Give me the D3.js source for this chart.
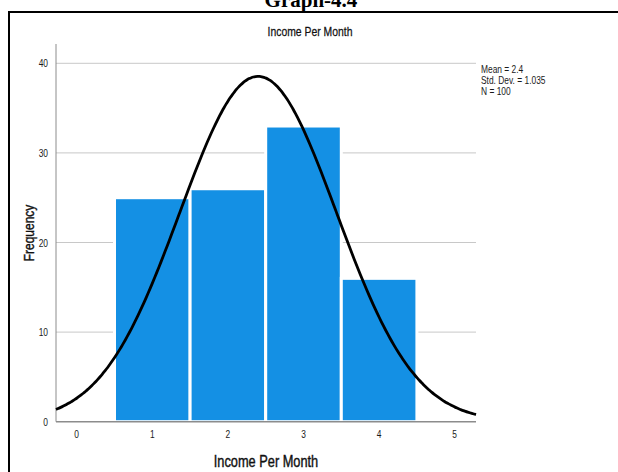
<!DOCTYPE html>
<html><head><meta charset="utf-8">
<script src="https://cdn.jsdelivr.net/npm/d3@7"></script>
<style>body{margin:0;background:#fff}svg{display:block}</style>
</head><body>
<script>
const categories = [1, 2, 3, 4];
const frequencies = [25, 26, 33, 16];
const yTicks = [0, 10, 20, 30, 40];
const xTicks = [0, 1, 2, 3, 4, 5];
const statsLines = ["Mean = 2.4", "Std. Dev. = 1.035", "N = 100"];
const mean = 2.4, sd = 1.035, n = 100, binWidth = 1;

const W = 618, H = 472;
const svg = d3.select("body").append("svg").attr("width", W).attr("height", H);

const x = d3.scaleLinear().domain([0, 5]).range([76.7, 454.7]);
const y = d3.scaleLinear().domain([0, 40]).range([421.7, 63.3]);
const xMin = x.invert(56), xMax = x.invert(476);

const font = "Liberation Sans, Arial, sans-serif";
const NARROW = 0.8;
function ntext(g, px, py, str, size, anchor, opts = {}) {
  const t = g.append("text")
    .attr("transform", `translate(${px},${py})${opts.rotate ? ` rotate(${opts.rotate})` : ""} scale(${NARROW},1)`)
    .attr("text-anchor", anchor).attr("font-family", font).attr("font-size", size)
    .attr("fill", opts.fill || "#1a1a1a").text(str);
  if (opts.heavy) t.attr("stroke", opts.fill || "#111").attr("stroke-width", opts.heavy);
  return t;
}

// page title (cut off at the top, as in the source)
svg.append("text").attr("x", 311).attr("y", 7).attr("text-anchor", "middle")
  .attr("font-family", "Liberation Serif, Times New Roman, serif").attr("font-weight", "bold")
  .attr("font-size", 21).text("Graph-4.4");

// border box
svg.append("path").attr("d", `M9,${H+5} V12 H${W+5}`).attr("fill", "none")
  .attr("stroke", "#000").attr("stroke-width", 2);

// grid lines
svg.append("g").selectAll("line").data(yTicks.filter(d => d > 0)).join("line")
  .attr("x1", 56).attr("x2", 476).attr("y1", d => y(d)).attr("y2", d => y(d))
  .attr("stroke", "#c8c8c8").attr("stroke-width", 1);

// bars
svg.append("g").selectAll("rect").data(categories).join("rect")
  .attr("x", (d) => x(d - binWidth / 2))
  .attr("width", x(binWidth) - x(0))
  .attr("y", (d, i) => y(frequencies[i]))
  .attr("height", (d, i) => y(0) - y(frequencies[i]))
  .attr("fill", "#1490e4").attr("stroke", "#fff").attr("stroke-width", 3);

// axes lines
svg.append("line").attr("x1", 56).attr("x2", 56).attr("y1", 44).attr("y2", y(0))
  .attr("stroke", "#8c8c8c").attr("stroke-width", 1);
svg.append("line").attr("x1", 56).attr("x2", 476).attr("y1", y(0)).attr("y2", y(0))
  .attr("stroke", "#8c8c8c").attr("stroke-width", 1.5);

// normal curve
const pts = d3.range(0, 201).map(i => {
  const xv = xMin + (xMax - xMin) * i / 200;
  const yv = n * binWidth / (sd * Math.sqrt(2 * Math.PI)) * Math.exp(-0.5 * ((xv - mean) / sd) ** 2);
  return [xv, yv];
});
svg.append("path").datum(pts)
  .attr("d", d3.line().x(d => x(d[0])).y(d => y(d[1])).curve(d3.curveBasis))
  .attr("fill", "none").attr("stroke", "#000").attr("stroke-width", 2.8);

// y tick labels
const gy = svg.append("g");
yTicks.forEach(d => ntext(gy, 48, y(d) + 4, d, 10.5, "end"));

// x tick labels
const gx = svg.append("g");
xTicks.forEach(d => ntext(gx, x(d), 438, d, 10.5, "middle"));

// chart title
ntext(svg, 310, 36, "Income Per Month", 13, "middle", {fill: "#111", heavy: 0.25});

// x axis title
ntext(svg, 266, 467, "Income Per Month", 16, "middle", {fill: "#111", heavy: 0.4});

// y axis title
ntext(svg, 34, 233, "Frequency", 15, "middle", {rotate: -90, fill: "#111", heavy: 0.4});

// stats
const gs = svg.append("g");
statsLines.forEach((s, i) => ntext(gs, 481, 72.5 + i * 11.3, s, 10.5, "start"));
</script>
</body></html>
